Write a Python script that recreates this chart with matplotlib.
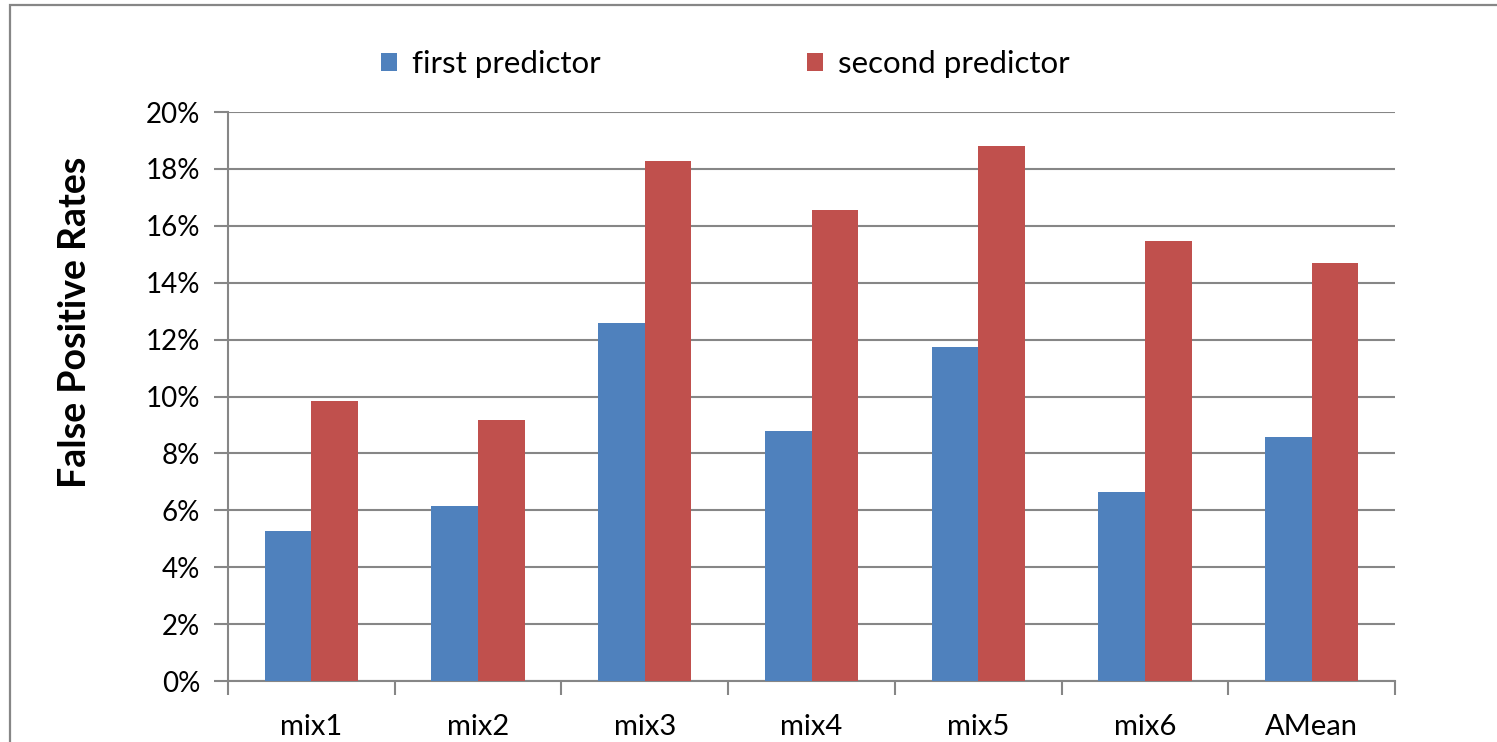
import matplotlib.pyplot as plt
import matplotlib.patches as mpatches
import numpy as np

plt.rcParams['font.family'] = ['Lato', 'DejaVu Sans']

# --- Dados ---
categories = ['mix1', 'mix2', 'mix3', 'mix4', 'mix5', 'mix6', 'AMean']
first_predictor = [5.26, 6.14, 12.6, 8.8, 11.75, 6.63, 8.56]
second_predictor = [9.86, 9.16, 18.28, 16.56, 18.8, 15.47, 14.7]
y_ticks = [0, 2, 4, 6, 8, 10, 12, 14, 16, 18, 20]

blue = '#4F81BD'
red = '#C0504D'
gray = '#868686'

fig = plt.figure(figsize=(14.97, 7.42), dpi=100)
ax = fig.add_axes([0.1523, 0.0822, 0.7796, 0.7668])

# moldura externa do gráfico
frame = mpatches.Rectangle((10 / 1497, -0.1), 1.2, 1 - 5 / 742 + 0.1,
                           transform=fig.transFigure, fill=False,
                           edgecolor=gray, lw=1.6, zorder=0)
fig.patches.append(frame)

x = np.arange(len(categories))
w = 0.28
ax.bar(x - w / 2, first_predictor, w, color=blue, label='first predictor', zorder=3)
ax.bar(x + w / 2, second_predictor, w, color=red, label='second predictor', zorder=3)

ax.set_xlim(-0.5, len(categories) - 0.5)
ax.set_ylim(0, 20)
ax.set_yticks(y_ticks)
ax.set_yticklabels([f'{t}%' for t in y_ticks])
ax.yaxis.grid(True, color=gray, lw=1.5, zorder=0)

# ticks do eixo x nas fronteiras das categorias
ax.set_xticks(np.arange(-0.5, len(categories)), minor=False)
ax.set_xticklabels([])
ax.set_xticks(x, minor=True)
ax.set_xticklabels(categories, minor=True)
ax.tick_params(axis='x', which='major', length=10, width=1.5, color=gray)
ax.tick_params(axis='x', which='minor', length=0, pad=24, labelsize=21)
ax.tick_params(axis='y', length=10, width=1.5, color=gray, pad=10, labelsize=20)

for side in ['top', 'right']:
    ax.spines[side].set_visible(False)
for side in ['left', 'bottom']:
    ax.spines[side].set_color(gray)
    ax.spines[side].set_linewidth(1.5)

fig.text(75 / 1497, 1 - 322 / 742, 'False Positive Rates', rotation=90,
         fontsize=27, fontweight='bold', ha='center', va='center')

fig.legend(loc='center left', bbox_to_anchor=(353 / 1497, 1 - 64 / 742),
           ncol=2, frameon=False, fontsize=22.5, handlelength=0.5,
           handleheight=0.5, handletextpad=0.5, columnspacing=6.6)

fig.savefig('out.png', dpi=100)
